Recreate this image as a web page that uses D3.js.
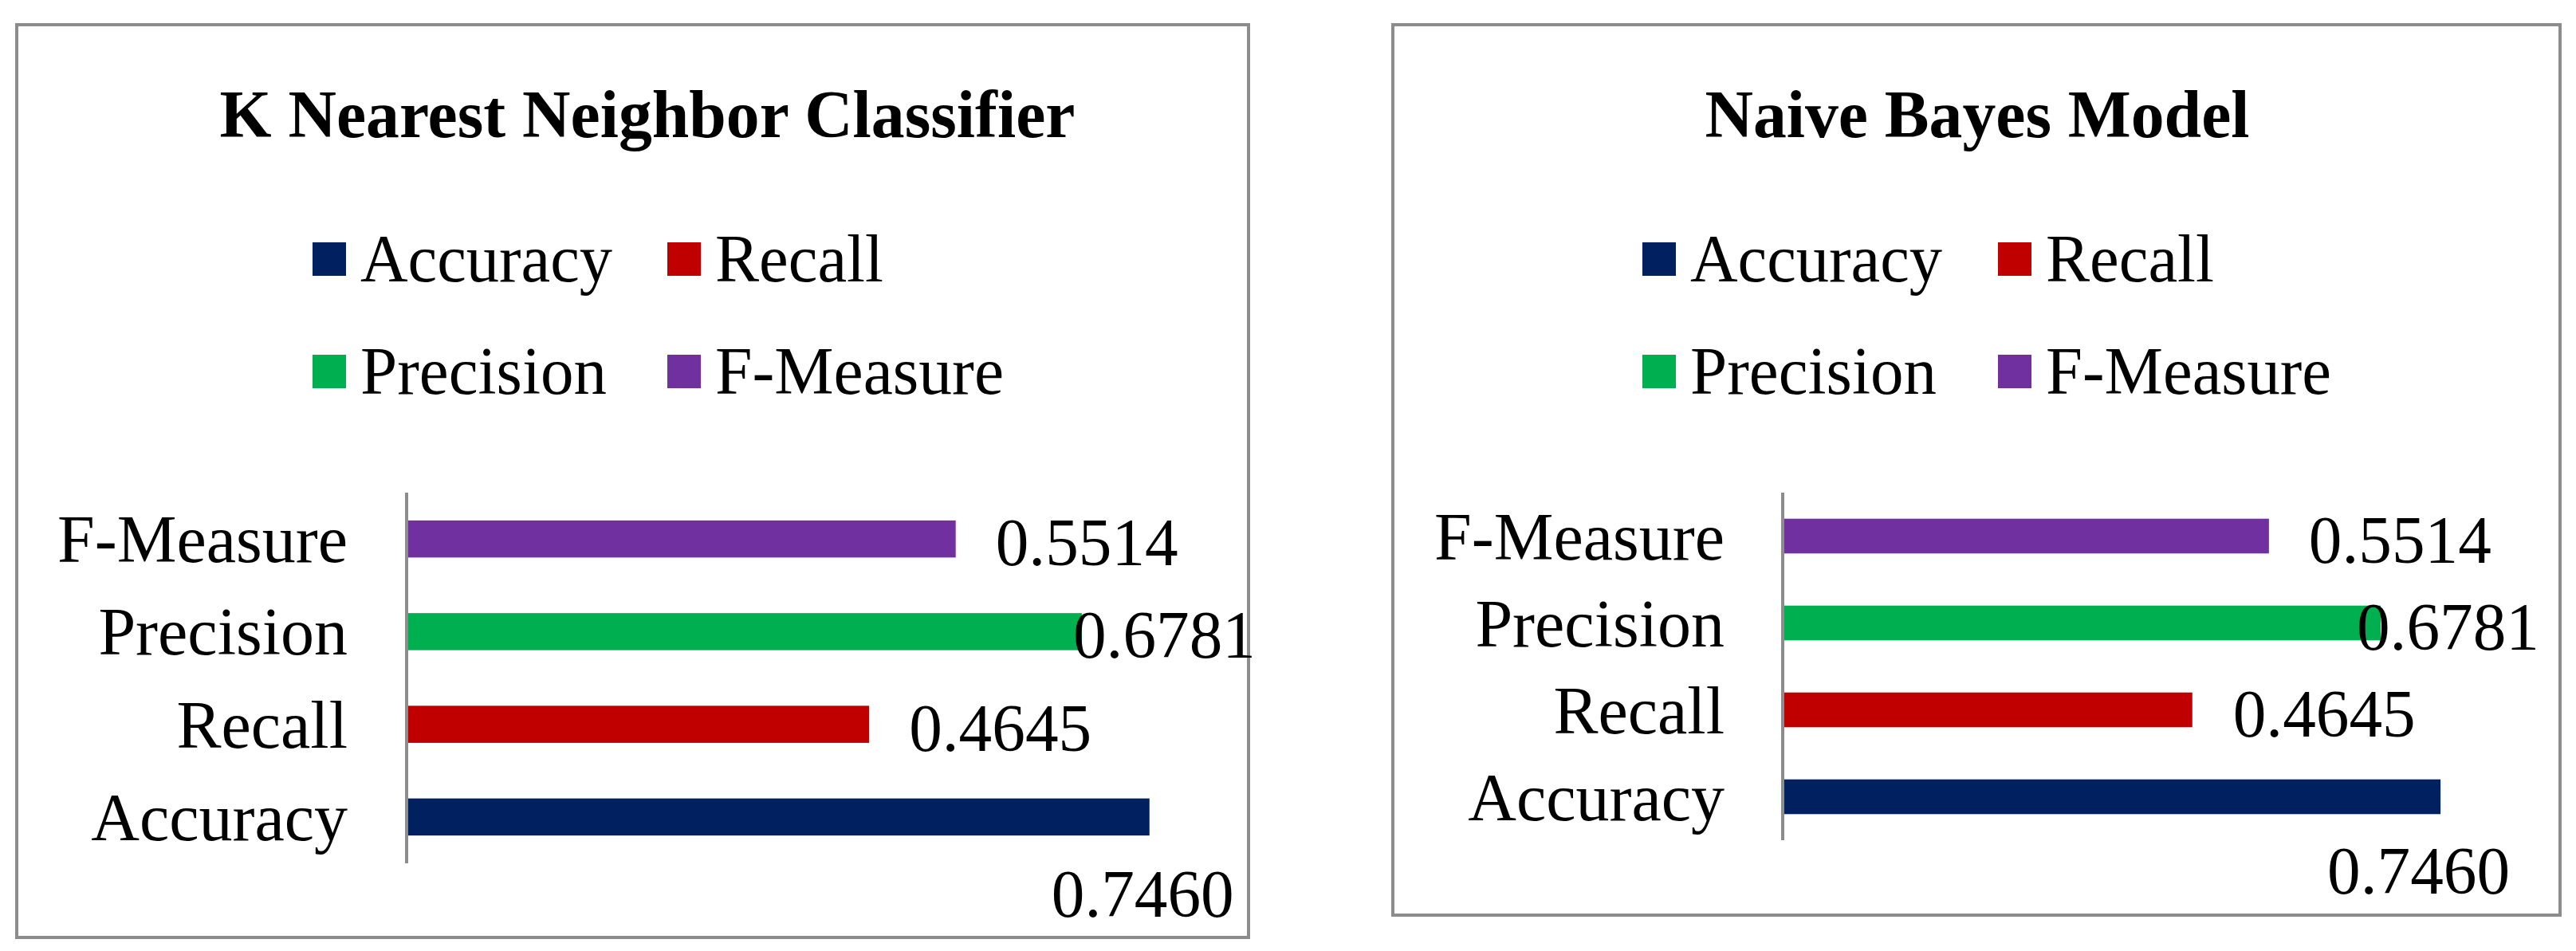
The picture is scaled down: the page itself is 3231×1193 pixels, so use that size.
<!DOCTYPE html>
<html><head><meta charset="utf-8">
<script src="https://cdn.jsdelivr.net/npm/d3@7"></script>
<style>html,body{margin:0;padding:0;background:#fff;}</style>
</head><body>
<svg id="c" width="3231" height="1193"></svg>
<script>
const categories = ["Accuracy", "Recall", "Precision", "F-Measure"];
const knnValues = [0.7460, 0.4645, 0.6781, 0.5514];
const nbValues = [0.7460, 0.4645, 0.6781, 0.5514];
const valueLabels = ["0.7460", "0.4645", "0.6781", "0.5514"];
const legendLabels = ["Accuracy", "Recall", "Precision", "F-Measure"];
const titles = ["K Nearest Neighbor Classifier", "Naive Bayes Model"];
const colors = {"Accuracy":"#002060","Recall":"#C00000","Precision":"#00B050","F-Measure":"#7030A0"};

const svg = d3.select("#c");
const font = "'Liberation Serif','Times New Roman',serif";

const panels = [
  {values: knnValues, title: titles[0], box:[21,31,1566,1176], titleX:812, titleW:1073,
   legX:[392,837], legTextW:{"Accuracy":316,"Recall":211,"Precision":309,"F-Measure":362},
   axisX:510, unit:1249, yTop:618, yBot:1083, catRight:436,
   labOff:{"F-Measure":[50,4],"Precision":[-11,4],"Recall":[50,4],"Accuracy":[-123,96]}},
  {values: nbValues, title: titles[1], box:[1747,31,3211,1148], titleX:2480, titleW:683,
   legX:[2060,2506], legTextW:{"Accuracy":316,"Recall":211,"Precision":309,"F-Measure":358},
   axisX:2236, unit:1106, yTop:618, yBot:1054, catRight:2163,
   labOff:{"F-Measure":[50,4],"Precision":[-30,4],"Recall":[51,4],"Accuracy":[-142,92]}}
];

panels.forEach(p => {
  const g = svg.append("g");
  g.append("rect").attr("x",p.box[0]).attr("y",p.box[1])
    .attr("width",p.box[2]-p.box[0]).attr("height",p.box[3]-p.box[1])
    .attr("fill","#fff").attr("stroke","#8c8c8c").attr("stroke-width",4);
  g.append("text").attr("x",p.titleX).attr("y",172).attr("text-anchor","middle")
    .attr("font-family",font).attr("font-weight","bold").attr("font-size",84)
    .attr("textLength",p.titleW).attr("lengthAdjust","spacingAndGlyphs").text(p.title);

  legendLabels.forEach((l,i) => {
    const col = i%2, row = Math.floor(i/2);
    const cy = row===0 ? 325 : 466;
    const x0 = p.legX[col];
    g.append("rect").attr("x",x0).attr("y",cy-21).attr("width",42).attr("height",42).attr("fill",colors[l]);
    g.append("text").attr("x",x0+60).attr("y",cy+28).attr("font-family",font).attr("font-size",84)
      .attr("textLength",p.legTextW[l]).attr("lengthAdjust","spacingAndGlyphs").text(l);
  });

  const x = d3.scaleLinear().domain([0,1]).range([p.axisX, p.axisX+p.unit]);
  const y = d3.scaleBand().domain(categories.slice().reverse()).range([p.yTop,p.yBot]).paddingInner(0.6).paddingOuter(0.3);

  categories.forEach((c,i) => {
    const v = p.values[i];
    g.append("rect").attr("x",x(0)).attr("y",y(c)).attr("width",x(v)-x(0)).attr("height",y.bandwidth()).attr("fill",colors[c]);
    g.append("text").attr("x",p.catRight).attr("y",y(c)+y.bandwidth()/2+29).attr("text-anchor","end")
      .attr("font-family",font).attr("font-size",84).text(c);
    const o = p.labOff[c];
    g.append("text").attr("x",x(v)+o[0]).attr("y",y(c)+y.bandwidth()/2+29+o[1])
      .attr("font-family",font).attr("font-size",84).attr("textLength",229).attr("lengthAdjust","spacingAndGlyphs")
      .text(valueLabels[i]);
  });
  g.append("line").attr("x1",p.axisX).attr("x2",p.axisX).attr("y1",p.yTop).attr("y2",p.yBot)
    .attr("stroke","#8c8c8c").attr("stroke-width",4);
});
</script>
</body></html>
